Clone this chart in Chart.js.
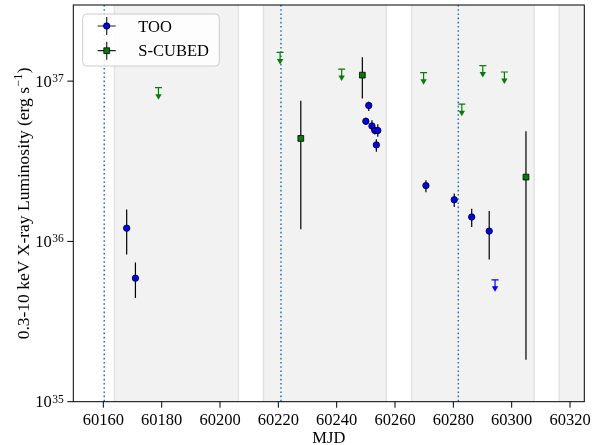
<!DOCTYPE html>
<html>
<head>
<meta charset="utf-8">
<script src="https://cdn.jsdelivr.net/npm/chart.js@4.4.1/dist/chart.umd.min.js"></script>
<style>
  html, body { margin: 0; padding: 0; background: #fff; }
  canvas { display: block; }
</style>
</head>
<body>
<canvas id="c" width="597" height="445"></canvas>
<script>
// ---------------- data ----------------
const xTicks = [60160, 60180, 60200, 60220, 60240, 60260, 60280, 60300, 60320];
const yTicks = [1e35, 1e36, 1e37];

// TOO detections (MJD, luminosity, lower, upper) in erg/s
const tooMJD = [60168.0, 60171.0, 60250.0, 60251.0, 60252.1, 60253.1, 60253.6, 60254.1, 60270.6, 60280.3, 60286.3, 60292.3];
const tooL   = [1.21e36, 0.59e36, 5.62e36, 7.05e36, 5.25e36, 4.92e36, 4.00e36, 4.92e36, 2.23e36, 1.82e36, 1.42e36, 1.16e36];
const tooLo  = [0.83e36, 0.443e36, 5.35e36, 6.52e36, 4.87e36, 4.65e36, 3.63e36, 4.49e36, 2.03e36, 1.64e36, 1.23e36, 0.77e36];
const tooHi  = [1.58e36, 0.74e36, 5.90e36, 7.43e36, 5.70e36, 5.20e36, 4.34e36, 5.38e36, 2.41e36, 1.99e36, 1.60e36, 1.55e36];

// S-CUBED detections
const scMJD = [60227.7, 60248.8, 60304.9];
const scL   = [4.39e36, 10.9e36, 2.52e36];
const scLo  = [1.19e36, 7.8e36, 0.183e36];
const scHi  = [7.54e36, 14.1e36, 4.87e36];

// Upper limits
const scUlMJD = [60178.9, 60220.6, 60241.7, 60269.8, 60282.9, 60290.1, 60297.5];
const scUlL   = [9.1e36, 15.1e36, 11.9e36, 11.3e36, 7.18e36, 12.5e36, 11.4e36];
const tooUlMJD = [60294.3];
const tooUlL   = [0.576e36];

// shaded visibility windows and dotted reference lines
const spanStart = [60163.8, 60214.9, 60265.7, 60316.3];
const spanEnd   = [60206.3, 60257.0, 60307.7, 60358.0];
const vlines    = [60160.3, 60220.9, 60281.7];

const xMin = 60149.7, xMax = 60324.9;
const yMin = 1e35, yMax = Math.pow(10, 37.475);

// ---------------- helpers ----------------
const SERIF = '"Liberation Serif", "DejaVu Serif", serif';
const FS = 16.5, FSUP = 11.5;
const pts = (xs, ys) => xs.map((x, i) => ({ x: x, y: ys[i] }));

const decor = {
  id: 'decor',
  beforeDatasetsDraw(chart) {
    const { ctx, chartArea: a, scales: { x, y } } = chart;
    ctx.save();
    ctx.beginPath();
    ctx.rect(a.left, a.top, a.right - a.left, a.bottom - a.top);
    ctx.clip();
    // shaded spans
    spanStart.forEach((s, i) => {
      const x0 = x.getPixelForValue(s), x1 = x.getPixelForValue(spanEnd[i]);
      ctx.fillStyle = '#f2f2f2';
      ctx.fillRect(x0, a.top, x1 - x0, a.bottom - a.top);
      ctx.strokeStyle = '#e3e3e3';
      ctx.lineWidth = 1.5;
      ctx.beginPath();
      ctx.moveTo(x0, a.top); ctx.lineTo(x0, a.bottom);
      ctx.moveTo(x1, a.top); ctx.lineTo(x1, a.bottom);
      ctx.stroke();
    });
    // dotted lines
    ctx.strokeStyle = '#1f77b4';
    ctx.lineWidth = 1.5;
    ctx.setLineDash([1.6, 2.6]);
    vlines.forEach(v => {
      const px = x.getPixelForValue(v);
      ctx.beginPath();
      ctx.moveTo(px, a.top); ctx.lineTo(px, a.bottom);
      ctx.stroke();
    });
    ctx.setLineDash([]);
    // error bars
    ctx.strokeStyle = '#000';
    ctx.lineWidth = 1.2;
    const bars = (xs, lo, hi) => xs.forEach((m, i) => {
      const px = x.getPixelForValue(m);
      ctx.beginPath();
      ctx.moveTo(px, y.getPixelForValue(lo[i]));
      ctx.lineTo(px, y.getPixelForValue(hi[i]));
      ctx.stroke();
    });
    bars(tooMJD, tooLo, tooHi);
    bars(scMJD, scLo, scHi);
    // upper limit arrows
    const arrows = (meta, color) => {
      meta.data.forEach(el => {
        const px = el.x, py = el.y;
        ctx.strokeStyle = color; ctx.fillStyle = color; ctx.lineWidth = 1.2;
        ctx.beginPath();
        ctx.moveTo(px - 3.5, py); ctx.lineTo(px + 3.5, py);
        ctx.moveTo(px, py); ctx.lineTo(px, py + 8);
        ctx.stroke();
        ctx.beginPath();
        ctx.moveTo(px - 3.2, py + 6.5);
        ctx.lineTo(px + 3.2, py + 6.5);
        ctx.lineTo(px, py + 12);
        ctx.closePath();
        ctx.fill();
      });
    };
    arrows(chart.getDatasetMeta(2), '#008000');
    arrows(chart.getDatasetMeta(3), '#0000ff');
    ctx.restore();
  },
  afterDraw(chart) {
    const { ctx, chartArea: a, scales: { x, y } } = chart;
    ctx.save();
    // frame
    ctx.strokeStyle = '#000';
    ctx.lineWidth = 1;
    ctx.strokeRect(a.left, a.top, a.right - a.left, a.bottom - a.top);
    ctx.fillStyle = '#000';
    // x ticks
    ctx.font = FS + 'px ' + SERIF;
    ctx.textAlign = 'center';
    ctx.textBaseline = 'alphabetic';
    xTicks.forEach(v => {
      const px = x.getPixelForValue(v);
      ctx.beginPath();
      ctx.moveTo(px, a.bottom); ctx.lineTo(px, a.bottom + 6);
      ctx.stroke();
      ctx.fillText(String(v), px, a.bottom + 23.3);
    });
    // y ticks
    yTicks.forEach(v => {
      const py = y.getPixelForValue(v);
      ctx.beginPath();
      ctx.moveTo(a.left - 6, py); ctx.lineTo(a.left, py);
      ctx.stroke();
      const e = String(Math.round(Math.log10(v)));
      ctx.font = FSUP + 'px ' + SERIF;
      const ew = ctx.measureText(e).width;
      ctx.font = FS + 'px ' + SERIF;
      const bw = ctx.measureText('10').width;
      const right = a.left - 9.5;
      ctx.textAlign = 'left';
      ctx.fillText('10', right - ew - bw - 0.5, py + 5.6);
      ctx.font = FSUP + 'px ' + SERIF;
      ctx.fillText(e, right - ew, py + 1);
    });
    // x title
    ctx.font = FS + 'px ' + SERIF;
    ctx.textAlign = 'center';
    ctx.fillText('MJD', (a.left + a.right) / 2, 442.5);
    // y title (rotated)
    ctx.save();
    ctx.translate(28.5, (a.top + a.bottom) / 2);
    ctx.rotate(-Math.PI / 2);
    const TF = 17.5, TS = 12;
    const p1 = '0.3-10 keV X-ray Luminosity (erg s', p2 = '\u22121', p3 = ')';
    ctx.font = TF + 'px ' + SERIF; const w1 = ctx.measureText(p1).width, w3 = ctx.measureText(p3).width;
    ctx.font = TS + 'px ' + SERIF; const w2 = ctx.measureText(p2).width;
    let sx = -(w1 + w2 + w3 + 1) / 2;
    ctx.textAlign = 'left';
    ctx.font = TF + 'px ' + SERIF; ctx.fillText(p1, sx, 0); sx += w1;
    ctx.font = TS + 'px ' + SERIF; ctx.fillText(p2, sx + 0.5, -7); sx += w2 + 1;
    ctx.font = TF + 'px ' + SERIF; ctx.fillText(p3, sx, 0);
    ctx.restore();
    // legend
    const lx = 82.7, ly = 14, lw = 136.6, lh = 52;
    ctx.beginPath();
    ctx.roundRect(lx, ly, lw, lh, 4);
    ctx.fillStyle = 'rgba(255,255,255,0.85)';
    ctx.fill();
    ctx.strokeStyle = '#cccccc';
    ctx.lineWidth = 1;
    ctx.stroke();
    const entries = [
      { label: chart.data.datasets[0].label, y: 26, style: 'circle', color: '#0000ff' },
      { label: chart.data.datasets[1].label, y: 50.7, style: 'rect', color: '#008000' }
    ];
    entries.forEach(en => {
      const cx = 106.7;
      ctx.strokeStyle = '#222'; ctx.lineWidth = 1.2;
      ctx.beginPath();
      ctx.moveTo(cx - 9, en.y); ctx.lineTo(cx + 9, en.y);
      ctx.moveTo(cx, en.y - 9); ctx.lineTo(cx, en.y + 9);
      ctx.stroke();
      ctx.strokeStyle = '#000';
      ctx.fillStyle = en.color; ctx.lineWidth = 0.8;
      ctx.beginPath();
      if (en.style === 'circle') ctx.arc(cx, en.y, 3.2, 0, Math.PI * 2);
      else ctx.rect(cx - 2.9, en.y - 2.9, 5.8, 5.8);
      ctx.fill(); ctx.stroke();
      ctx.fillStyle = '#000';
      ctx.font = FS + 'px ' + SERIF;
      ctx.textAlign = 'left';
      ctx.fillText(en.label, 138.3, en.y + 5.5);
    });
    ctx.restore();
  }
};

new Chart(document.getElementById('c'), {
  type: 'scatter',
  data: {
    datasets: [
      { label: 'TOO', data: pts(tooMJD, tooL), pointStyle: 'circle', pointRadius: 3.2, pointHoverRadius: 3.2,
        backgroundColor: '#0000ff', borderColor: '#000', borderWidth: 0.8 },
      { label: 'S-CUBED', data: pts(scMJD, scL), pointStyle: 'rect', pointRadius: 4.1, pointHoverRadius: 4.1,
        backgroundColor: '#008000', borderColor: '#000', borderWidth: 0.8 },
      { label: 'S-CUBED UL', data: pts(scUlMJD, scUlL), pointRadius: 0, pointHoverRadius: 0 },
      { label: 'TOO UL', data: pts(tooUlMJD, tooUlL), pointRadius: 0, pointHoverRadius: 0 }
    ]
  },
  options: {
    responsive: false,
    devicePixelRatio: 1,
    animation: false,
    events: [],
    layout: { padding: { left: 73.3, right: 12.7, top: 5, bottom: 43.3 } },
    plugins: { legend: { display: false }, tooltip: { enabled: false } },
    scales: {
      x: { type: 'linear', min: xMin, max: xMax, display: false },
      y: { type: 'logarithmic', min: yMin, max: yMax, display: false }
    }
  },
  plugins: [decor]
});
</script>
</body>
</html>
